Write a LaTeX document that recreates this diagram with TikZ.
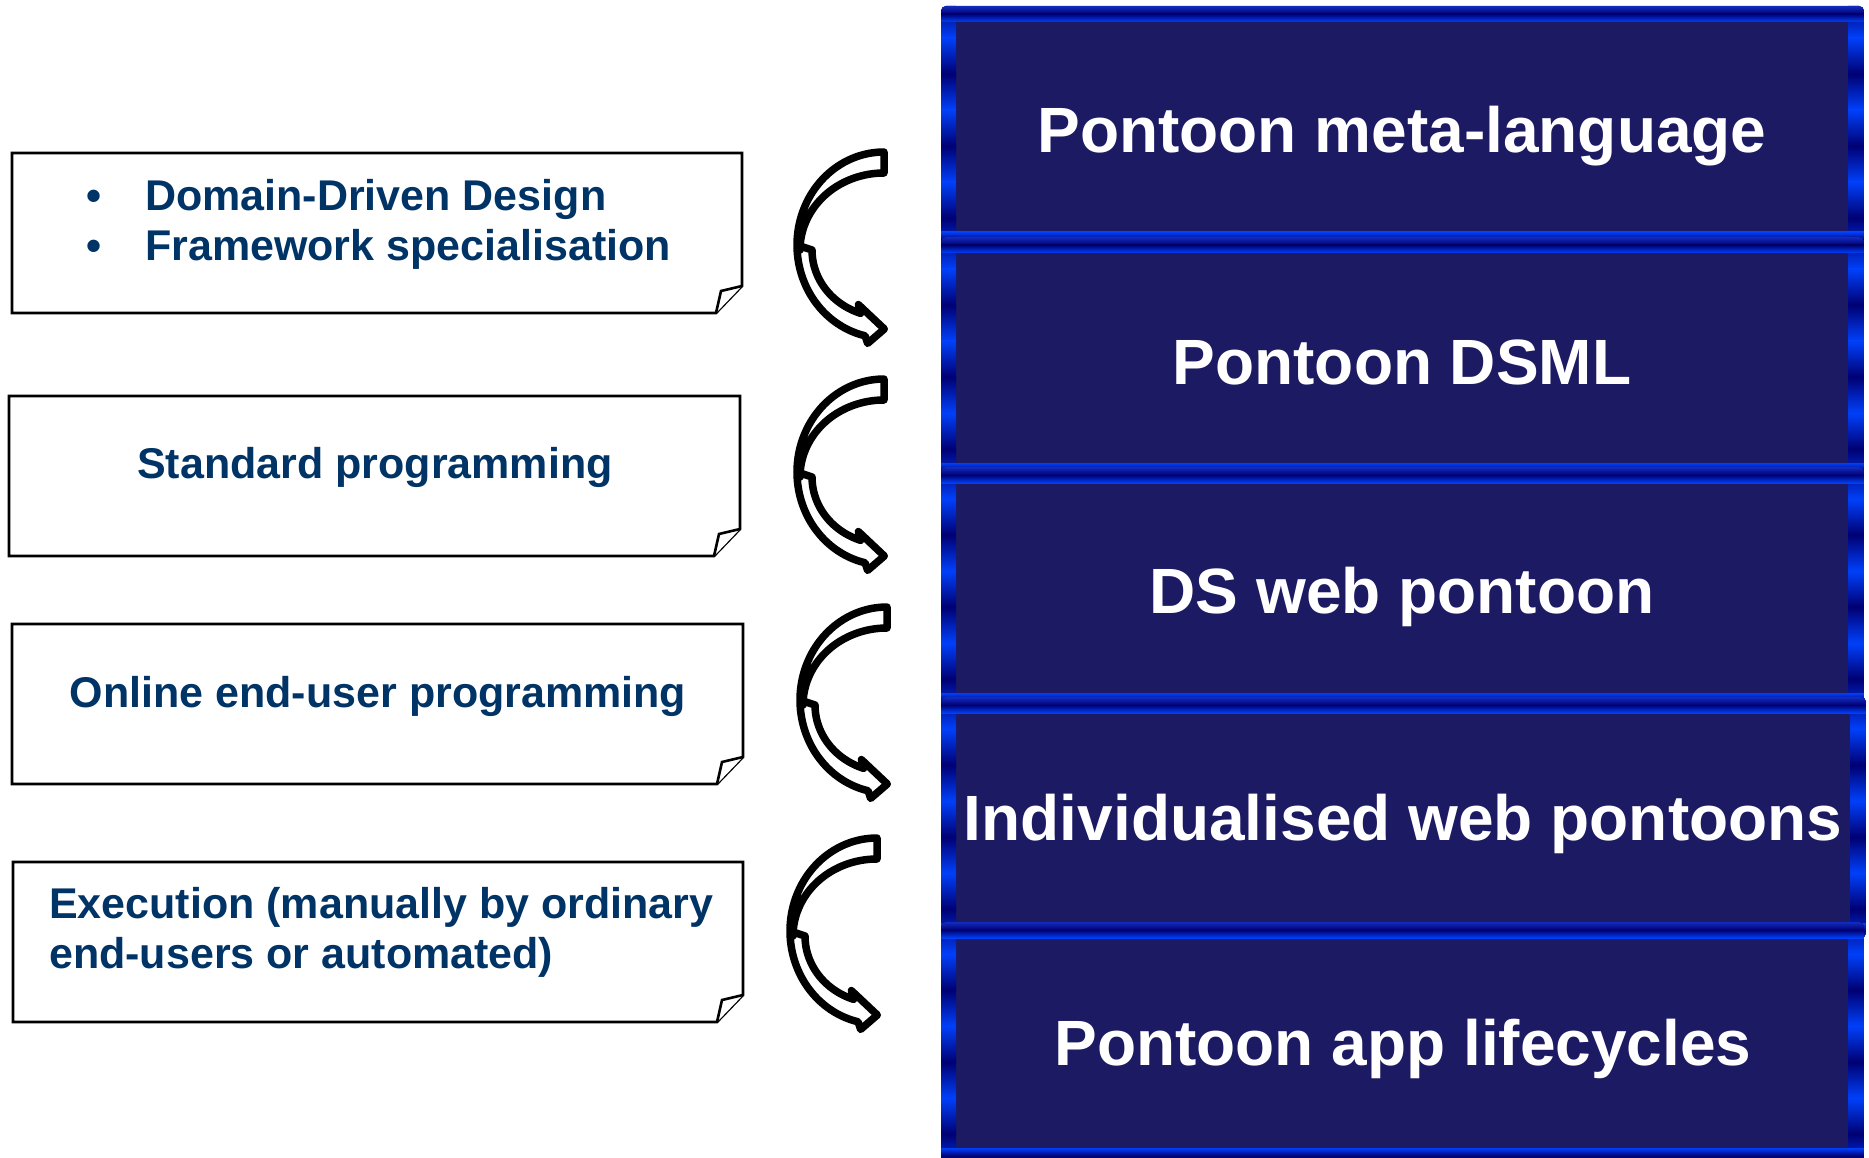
\documentclass[tikz,border=0pt]{standalone}
\usepackage{fontspec}
\setmainfont{Liberation Sans}
\usetikzlibrary{calc}

\definecolor{panelfill}{RGB}{28,26,98}
\definecolor{frdark}{RGB}{0,0,115}
\definecolor{frbright}{RGB}{0,64,250}
\definecolor{frtop}{RGB}{20,44,190}
\definecolor{notetext}{RGB}{0,51,102}

\tikzset{
  panelfont/.style={font=\fontsize{64}{70}\selectfont\bfseries, text=white, inner sep=0pt, anchor=base},
  notefont/.style={font=\fontsize{43}{50}\selectfont\bfseries, text=notetext, inner sep=0pt},
  noteline/.style={draw=black, line width=2.6pt, fill=white, line join=miter},
  swoop/.style={draw=black, fill=white, line width=7.5pt, line join=round},
}

% framed panel: #1 = top edge, #2 = right edge
\newcommand\pontoonpanel[2]{%
  \begin{scope}
    \clip[rounded corners=5pt] (941,#1) rectangle (#2,#1+241);
    \fill[panelfill] (941,#1) rectangle (#2,#1+241);
    \foreach \k in {0,2,4,6} {
      \shade[top color=frdark, bottom color=frbright] (941,{#1-4+36*\k}) rectangle (956,{#1+32+36*\k});
      \shade[top color=frdark, bottom color=frbright] (#2-16,{#1-4+36*\k}) rectangle (#2,{#1+32+36*\k});
    }
    \foreach \k in {1,3,5} {
      \shade[top color=frbright, bottom color=frdark] (941,{#1-4+36*\k}) rectangle (956,{#1+32+36*\k});
      \shade[top color=frbright, bottom color=frdark] (#2-16,{#1-4+36*\k}) rectangle (#2,{#1+32+36*\k});
    }
    \shade[top color=frtop, bottom color=frdark] (941,#1) rectangle (#2,#1+8);
    \shade[top color=frdark, bottom color=frbright] (941,#1+8) rectangle (#2,#1+16);
    \shade[top color=frbright, bottom color=frdark] (941,#1+226) rectangle (#2,#1+234);
    \shade[top color=frdark, bottom color=frtop] (941,#1+234) rectangle (#2,#1+241);
  \end{scope}}

% note box with a folded lower right corner: #1 name, #2 left, #3 top, #4 right, #5 bottom
\newcommand\notebox[5]{%
  \coordinate (#1-nw) at (#2,#3);
  \coordinate (#1-ne) at (#4,#3);
  \coordinate (#1-fa) at (#4,#5-27);
  \coordinate (#1-fb) at (#4-26,#5);
  \coordinate (#1-fc) at (#4-21,#5-22);
  \coordinate (#1-sw) at (#2,#5);
  \draw[noteline] (#1-nw) -- (#1-ne) -- (#1-fa) -- (#1-fb) -- (#1-sw) -- cycle;
  \draw[noteline] (#1-fa) -- (#1-fc) -- (#1-fb);}

% curved arrow bending to the left and pointing right at its lower end
\newcommand\swooparrow[2]{%
  \begin{scope}[shift={(#1,#2)}]
    \filldraw[swoop]
      (884,152) -- plot[domain=-90:-180, samples=40] ({884+87*cos(\x)},{245+93*sin(\x)})
      -- plot[domain=180:270, samples=40] ({884+84*cos(\x)},{250+77*sin(\x)}) -- cycle
      (797,245) -- plot[domain=180:102.6, samples=40] ({884+87*cos(\x)},{245+93*sin(\x)})
      -- (867.6,343.4) -- (884.3,329) -- (858.4,304.6) -- (860.5,313.3)
      -- plot[domain=109:180, samples=40] ({884+72*cos(\x)},{250+67*sin(\x)}) -- cycle;
  \end{scope}}

\begin{document}
\begin{tikzpicture}[x=1pt, y=-1pt]
  \useasboundingbox (0,0) rectangle (1869,1158);
  \clip (0,0) rectangle (1869,1158);

  % stacked language levels
  \pontoonpanel{6}{1864}
  \node[panelfont] (meta) at (1402,153) {Pontoon meta-language};
  \pontoonpanel{237}{1864}
  \node[panelfont] (dsml) at (1402,384) {Pontoon DSML};
  \pontoonpanel{467}{1864}
  \node[panelfont] (dsweb) at (1402,613) {DS web pontoon};
  \pontoonpanel{697}{1866}
  \node[panelfont] (indiv) at (1403,840) {Individualised web pontoons};
  \pontoonpanel{922}{1864}
  \node[panelfont] (life) at (1403,1065) {Pontoon app lifecycles};

  % activity notes
  \notebox{n1}{12}{153}{742}{313}
  \node[notefont, anchor=base] (bul1) at (94,211) {\textbullet};
  \node[notefont, anchor=base west] (ddd) at (145,211) {Domain-Driven Design};
  \node[notefont, anchor=base] (bul2) at (94,261) {\textbullet};
  \node[notefont, anchor=base west] (fws) at (145,261) {Framework specialisation};

  \notebox{n2}{9}{396}{740}{556}
  \node[notefont, anchor=base] (std) at (375,478) {Standard programming};

  \notebox{n3}{12}{624}{743}{784}
  \node[notefont, anchor=base] (online) at (378,707) {Online end-user programming};

  \notebox{n4}{13}{862}{743}{1022}
  \node[notefont, anchor=base west] (exec1) at (49,918) {Execution (manually by ordinary};
  \node[notefont, anchor=base west] (exec2) at (49,968) {end-users or automated)};

  % transitions between levels
  \swooparrow{0}{0}
  \swooparrow{0}{227}
  \swooparrow{3}{455}
  \swooparrow{-7}{686}
\end{tikzpicture}
\end{document}
